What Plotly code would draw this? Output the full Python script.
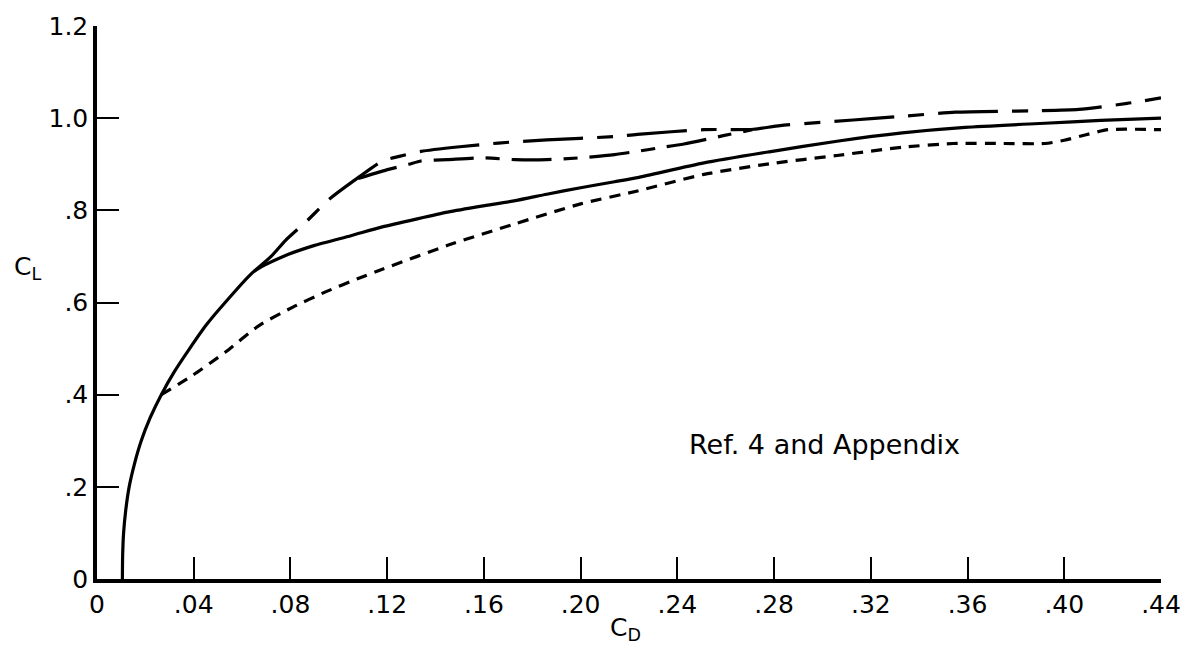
import plotly.graph_objects as go

# Drag polar C_L vs C_D
cd_solid = [0.0105, 0.0106, 0.0110, 0.0119, 0.0133, 0.0155, 0.0183, 0.022, 0.0266, 0.032,
            0.0383, 0.045, 0.053, 0.065,
            0.077, 0.090, 0.105, 0.118, 0.132, 0.145, 0.159, 0.173, 0.186, 0.200, 0.214, 0.2235,
            0.251, 0.278, 0.306, 0.333, 0.359, 0.392, 0.415, 0.44]
cl_solid = [0.0, 0.05, 0.10, 0.15, 0.20, 0.25, 0.30, 0.35, 0.40, 0.45,
            0.50, 0.55, 0.60, 0.668,
            0.700, 0.724, 0.745, 0.764, 0.781, 0.796, 0.809, 0.821, 0.835, 0.849, 0.862, 0.871,
            0.903, 0.927, 0.950, 0.968, 0.980, 0.989, 0.995, 1.0]

cd_dashed = [0.0266, 0.0396, 0.053, 0.067, 0.081, 0.0945, 0.108, 0.118, 0.145, 0.173, 0.200,
             0.2235, 0.251, 0.278, 0.306, 0.333, 0.354, 0.375, 0.392, 0.400, 0.409, 0.418, 0.44]
cl_dashed = [0.40, 0.442, 0.492, 0.55, 0.59, 0.623, 0.652, 0.672, 0.724, 0.771, 0.814,
             0.842, 0.878, 0.901, 0.919, 0.937, 0.945, 0.945, 0.945, 0.952, 0.964, 0.975, 0.975]

cd_upper = [0.065, 0.072, 0.078, 0.087, 0.096, 0.108, 0.118, 0.125, 0.134, 0.150, 0.166, 0.186,
            0.214, 0.2235, 0.251, 0.2715, 0.2825, 0.3127, 0.3305, 0.355, 0.389, 0.406, 0.426, 0.44]
cl_upper = [0.668, 0.700, 0.735, 0.778, 0.824, 0.871, 0.907, 0.917, 0.928, 0.938, 0.946, 0.953,
            0.960, 0.965, 0.975, 0.976, 0.984, 0.996, 1.003, 1.013, 1.016, 1.019, 1.032, 1.044]

cd_lower = [0.108, 0.118, 0.129, 0.134, 0.145, 0.159, 0.173, 0.186, 0.200, 0.214, 0.2235,
            0.2317, 0.2427, 0.259, 0.271]
cl_lower = [0.869, 0.885, 0.900, 0.907, 0.910, 0.914, 0.910, 0.910, 0.914, 0.921, 0.928,
            0.935, 0.944, 0.962, 0.975]

x_ticks = [0, 0.04, 0.08, 0.12, 0.16, 0.20, 0.24, 0.28, 0.32, 0.36, 0.40, 0.44]
x_labels = ["0", ".04", ".08", ".12", ".16", ".20", ".24", ".28", ".32", ".36", ".40", ".44"]
y_ticks = [0, 0.2, 0.4, 0.6, 0.8, 1.0, 1.2]
y_labels = ["0", ".2", ".4", ".6", ".8", "1.0", "1.2"]

note_text = "Ref. 4 and Appendix"

FONT = "DejaVu Sans"
ink = "black"

fig = go.Figure()


def curve(x, y, dash):
    fig.add_trace(go.Scatter(
        x=x, y=y, mode="lines",
        line=dict(color=ink, width=3.2, dash=dash, shape="spline", smoothing=0.6),
        showlegend=False, hoverinfo="skip",
    ))


curve(cd_solid, cl_solid, "solid")
curve(cd_dashed, cl_dashed, "11px,8px")
curve(cd_upper, cl_upper, "60px,14px,16px,14px")
curve(cd_lower, cl_lower, "40px,12px,14px,12px")

fig.add_annotation(x=0.301, y=0.292, xref="x", yref="y", text=note_text, showarrow=False,
                   xanchor="center", yanchor="middle",
                   font=dict(family=FONT, size=27, color=ink))
fig.add_annotation(x=-0.065, y=0.562, xref="paper", yref="paper", text="C<sub>L</sub>",
                   showarrow=False, xanchor="center", yanchor="middle",
                   font=dict(family=FONT, size=25, color=ink))
fig.add_annotation(x=0.497, y=-0.09, xref="paper", yref="paper", text="C<sub>D</sub>",
                   showarrow=False, xanchor="center", yanchor="middle",
                   font=dict(family=FONT, size=25, color=ink))

fig.update_layout(
    width=1193, height=659,
    margin=dict(l=97, r=27, t=20, b=80),
    paper_bgcolor="white", plot_bgcolor="white",
    font=dict(family=FONT, size=24, color=ink),
    xaxis=dict(range=[0, 0.44], tickvals=x_ticks, ticktext=x_labels,
               showgrid=False, zeroline=False, showline=True, linecolor=ink, linewidth=3.5,
               ticks="inside", ticklen=22, tickwidth=2, tickcolor=ink,
               tickfont=dict(family=FONT, size=25, color=ink), fixedrange=True),
    yaxis=dict(range=[0, 1.2], tickvals=y_ticks, ticktext=y_labels,
               showgrid=False, zeroline=False, showline=True, linecolor=ink, linewidth=3.5,
               ticks="inside", ticklen=22, tickwidth=2, tickcolor=ink,
               tickfont=dict(family=FONT, size=25, color=ink), fixedrange=True),
)

fig.write_html("out.html")
